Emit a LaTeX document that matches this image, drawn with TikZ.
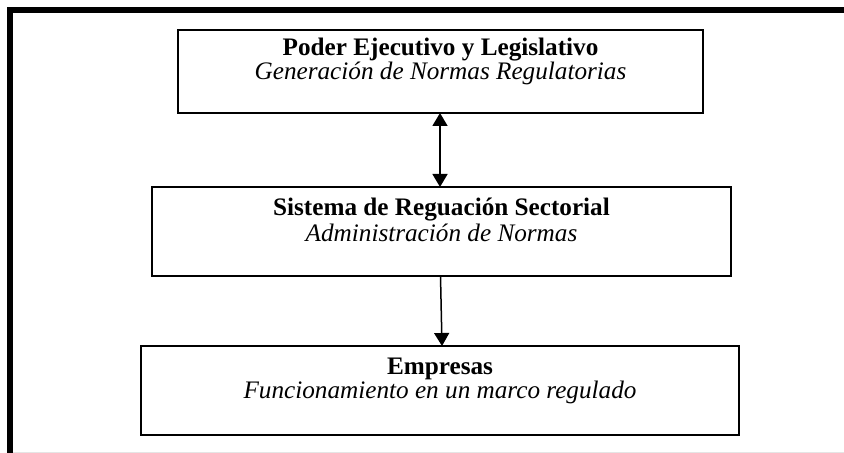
\documentclass[tikz,border=0pt]{standalone}
\usepackage{fontspec}
\setmainfont{Liberation Serif}
\usetikzlibrary{arrows.meta}
\tikzset{
  boxnode/.style={draw=black, line width=1pt, inner sep=0pt},
  textnode/.style={align=center, inner sep=0pt, font=\fontsize{12.6}{12}\selectfont},
  conn/.style={line width=0.75pt, -{Triangle[length=6.5pt,width=7.5pt]}},
  frame/.style={line width=3pt, black}
}
\begin{document}
\begin{tikzpicture}[x=0.5pt, y=-0.5pt]
\useasboundingbox (0,0) rectangle (844,453);
% frame
\draw[frame] (10,453) -- (10,10.5) -- (844,10.5);
\draw[gray!20, line width=0.5pt] (13,452) -- (844,452);
% boxes
\node[boxnode, minimum width=262.5pt, minimum height=41.5pt] (b1) at (440.5,71.5) {};
\node[boxnode, minimum width=289.5pt, minimum height=44.5pt] (b2) at (441.5,231.5) {};
\node[boxnode, minimum width=299pt, minimum height=44.5pt] (b3) at (440,390.5) {};
% texts
\node[textnode] (t1a) at (440.5,50) {\textbf{Poder Ejecutivo y Legislativo}};
\node[textnode] (t1b) at (440.5,73) {\textit{Generación de Normas Regulatorias}};
\node[textnode] (t2a) at (441.5,210) {\textbf{Sistema de Reguación Sectorial}};
\node[textnode] (t2b) at (441.5,233) {\textit{Administración de Normas}};
\node[textnode] (t3a) at (440,369) {\textbf{Empresas}};
\node[textnode] (t3b) at (440,392) {\textit{Funcionamiento en un marco regulado}};
% connectors
\coordinate (a1) at (440,113);
\coordinate (a2) at (440,187);
\draw[conn, {Triangle[length=6.5pt,width=7.5pt]}-{Triangle[length=6.5pt,width=7.5pt]}] (a1) -- (a2);
\coordinate (c1) at (440.5,276);
\coordinate (c2) at (442,346);
\draw[conn] (c1) -- (c2);
\end{tikzpicture}
\end{document}
